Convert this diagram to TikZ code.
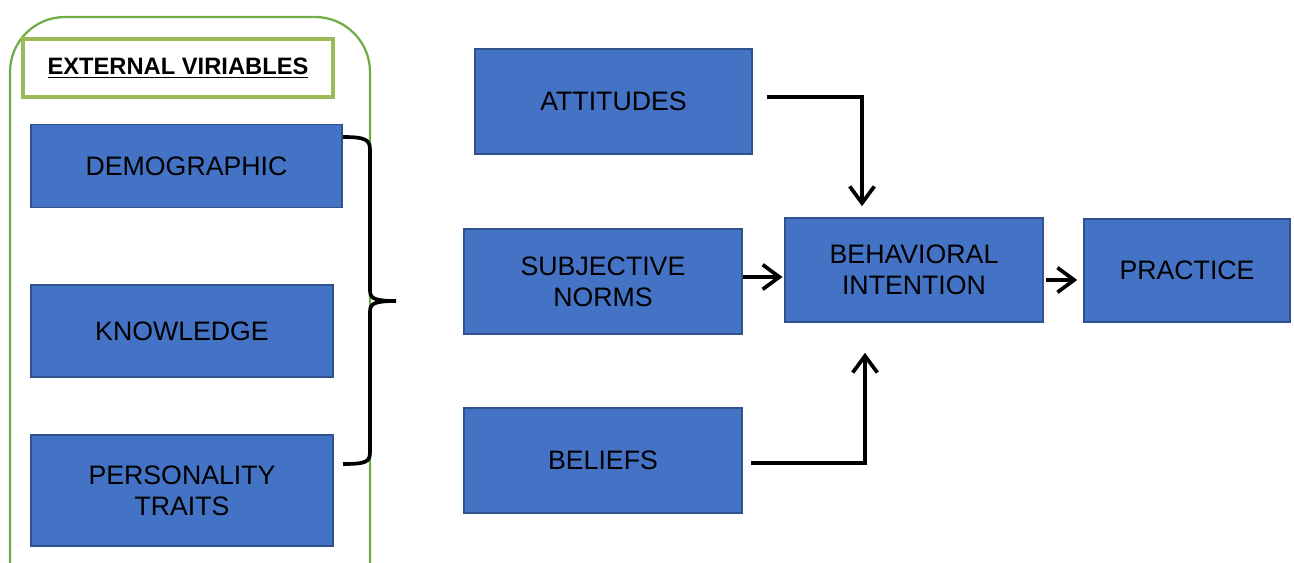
\documentclass[tikz,border=0pt]{standalone}
\usepackage{fontspec}
\setmainfont{Liberation Sans}
\usetikzlibrary{arrows.meta}
\definecolor{boxblue}{HTML}{4472C4}
\definecolor{boxedge}{HTML}{2F528F}
\definecolor{outergreen}{HTML}{70AD47}
\definecolor{labelgreen}{HTML}{9BBB59}
\begin{document}
\begin{tikzpicture}[x=0.02cm,y=-0.02cm,
  blk/.style={draw=boxedge, fill=boxblue, line width=0.9pt, align=center, inner sep=0pt,
    font=\fontsize{15.2}{17.5}\selectfont},
  arr/.style={line width=2.1pt, -{Straight Barb[length=9.5pt,width=14pt]}}]
\useasboundingbox (0,0) rectangle (1294,563);
\clip (0,0) rectangle (1294,563);

% external variables group
\draw[outergreen, line width=1.3pt, rounded corners=1.1cm] (10,17) rectangle (370,620);
\node[draw=labelgreen, line width=2.5pt, minimum width=6.2cm, minimum height=1.16cm, inner sep=0pt,
  font=\fontsize{13.5}{15}\selectfont\bfseries] (extlabel) at (178,68) {\underline{EXTERNAL VIRIABLES}};

\node[blk, minimum width=6.22cm, minimum height=1.66cm] (demo) at (186.5,166) {DEMOGRAPHIC};
\node[blk, minimum width=6.04cm, minimum height=1.84cm] (know) at (182,331) {KNOWLEDGE};
\node[blk, minimum width=6.04cm, minimum height=2.22cm] (pers) at (182,490.5) {PERSONALITY\\TRAITS};

% brace
\coordinate (bracetop) at (343,137);
\coordinate (bracebot) at (343,464);
\coordinate (bracetip) at (396,301);
\draw[line width=2.1pt] (bracetop) .. controls (366,137) and (370,140) .. (370,150) -- (370,290)
  .. controls (370,298) and (373,301) .. (bracetip)
  .. controls (373,301) and (370,304) .. (370,312) -- (370,452)
  .. controls (370,462) and (366,464) .. (bracebot);

% model
\node[blk, minimum width=5.54cm, minimum height=2.1cm] (att) at (613.5,101.5) {ATTITUDES};
\node[blk, minimum width=5.56cm, minimum height=2.1cm] (subj) at (603,281.5) {SUBJECTIVE\\NORMS};
\node[blk, minimum width=5.56cm, minimum height=2.1cm] (bel) at (603,460.5) {BELIEFS};
\node[blk, minimum width=5.16cm, minimum height=2.08cm] (bi) at (914,270) {BEHAVIORAL\\INTENTION};
\node[blk, minimum width=4.12cm, minimum height=2.06cm] (prac) at (1187,270.5) {PRACTICE};

\draw[arr, shorten <=0.28cm, shorten >=0.22cm] (att.east |- 0,97) -| (bi.north -| 862,0);
\draw[arr, shorten >=1pt] (subj.east |- 0,277) -- (bi.west |- 0,277);
\draw[arr, shorten <=0.16cm, shorten >=0.6cm] (bel.east |- 0,463) -| (bi.south -| 865,0);
\draw[arr, shorten <=1pt, shorten >=0.12cm] (bi.east |- 0,280) -- (prac.west |- 0,280);
\end{tikzpicture}
\end{document}
